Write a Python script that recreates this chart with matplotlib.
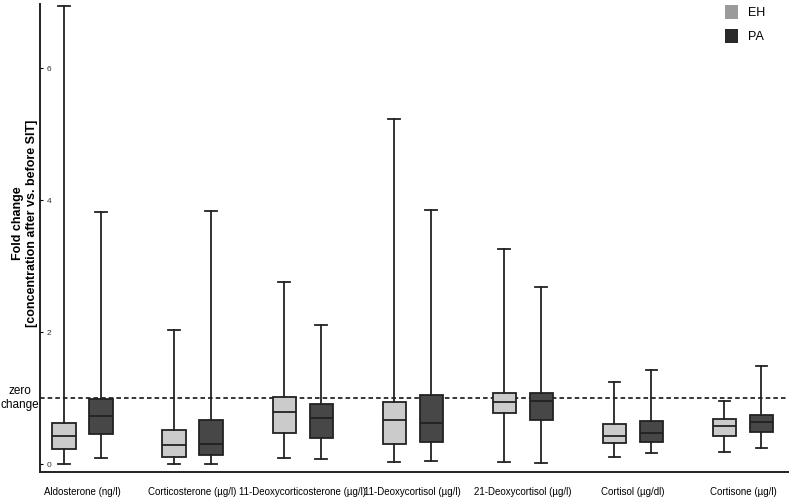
import matplotlib
matplotlib.use("Agg")
import matplotlib.pyplot as plt
from matplotlib.patches import Patch

plt.rcParams['font.family'] = ['Liberation Sans', 'DejaVu Sans']

# steroid groups, x labels
categories = ["Aldosterone (ng/l)", "Corticosterone (µg/l)", "11-Deoxycorticosterone (µg/l)",
              "11-Deoxycortisol (µg/l)", "21-Deoxycortisol (µg/l)", "Cortisol (µg/dl)",
              "Cortisone (µg/l)"]

# fold change summaries: whisker low, q1, median, q3, whisker high
eh_low = [0.00, 0.00, 0.09, 0.03, 0.03, 0.10, 0.18]
eh_q1 = [0.22, 0.10, 0.47, 0.30, 0.78, 0.32, 0.43]
eh_med = [0.42, 0.29, 0.79, 0.66, 0.94, 0.43, 0.58]
eh_q3 = [0.62, 0.52, 1.01, 0.94, 1.07, 0.60, 0.68]
eh_high = [6.94, 2.03, 2.76, 5.23, 3.26, 1.24, 0.95]

pa_low = [0.09, 0.00, 0.08, 0.05, 0.02, 0.16, 0.25]
pa_q1 = [0.45, 0.14, 0.40, 0.34, 0.67, 0.33, 0.48]
pa_med = [0.72, 0.30, 0.70, 0.62, 0.95, 0.47, 0.64]
pa_q3 = [0.99, 0.67, 0.91, 1.05, 1.07, 0.65, 0.74]
pa_high = [3.82, 3.83, 2.11, 3.85, 2.68, 1.42, 1.48]

y_ticks = [0, 2, 4, 6]


def make_stats(low, q1, med, q3, high):
    return [dict(whislo=a, q1=b, med=c, q3=d, whishi=e, fliers=[])
            for a, b, c, d, e in zip(low, q1, med, q3, high)]


fig = plt.figure(figsize=(7.93, 5.01), dpi=100)
ax = fig.add_axes([0.0504, 0.0579, 0.9433, 0.934])

edge = "#222222"
lw = 1.3
common = dict(showfliers=False, patch_artist=True, widths=0.21,
              whiskerprops=dict(color=edge, linewidth=lw),
              capprops=dict(color=edge, linewidth=lw),
              medianprops=dict(color=edge, linewidth=lw))

n = len(categories)
off = 0.168
ax.bxp(make_stats(eh_low, eh_q1, eh_med, eh_q3, eh_high),
       positions=[i - off for i in range(n)],
       boxprops=dict(facecolor="#cbcbcb", edgecolor=edge, linewidth=lw), **common)
ax.bxp(make_stats(pa_low, pa_q1, pa_med, pa_q3, pa_high),
       positions=[i + off for i in range(n)],
       boxprops=dict(facecolor="#474747", edgecolor=edge, linewidth=lw), **common)

ax.axhline(1.0, color="black", linestyle=(0, (3, 2)), linewidth=1.1, zorder=0)

ax.set_xlim(-0.386, 6.41)
ax.set_ylim(-0.121, 6.97)
ax.set_xticks(range(n))
ax.set_xticklabels(categories, fontsize=7)
ax.tick_params(axis='x', length=0, pad=11)
ax.set_yticks(y_ticks)
ax.set_yticklabels([str(t) for t in y_ticks], fontsize=6, color="#333333")
ax.tick_params(axis='y', direction='in', length=2, width=0.8, pad=-5)
for lab in ax.get_yticklabels():
    lab.set_ha('left')

for s in ["top", "right"]:
    ax.spines[s].set_visible(False)
for s in ["left", "bottom"]:
    ax.spines[s].set_linewidth(1.4)
    ax.spines[s].set_color("#222222")

fig.text(0.032, 0.555, "Fold change\n[concentration after vs. before SIT]",
         rotation=90, ha='center', va='center', fontsize=9, fontweight='bold',
         linespacing=1.2)
fig.text(20 / 793, 1 - 398 / 501, "zero\nchange", ha='center', va='center', fontsize=8.5)

handles = [Patch(facecolor="#9a9a9a", edgecolor="none", label="EH"),
           Patch(facecolor="#2a2a2a", edgecolor="none", label="PA")]
ax.legend(handles=handles, loc="upper right", frameon=False, fontsize=9,
          handlelength=1.0, handleheight=1.3, labelspacing=0.8,
          bbox_to_anchor=(0.984, 1.022))

fig.savefig("out.png", dpi=100)
